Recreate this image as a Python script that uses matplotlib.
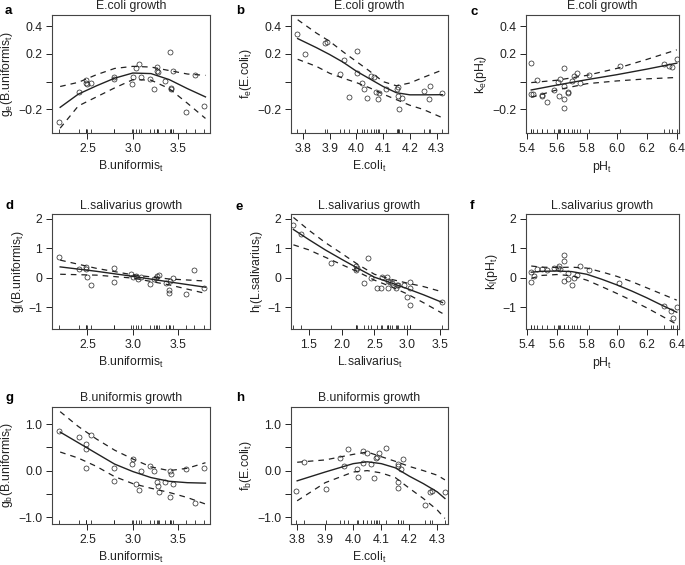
import matplotlib
matplotlib.use('Agg')
import matplotlib.pyplot as plt

plt.rcParams['font.family'] = ['Liberation Sans', 'DejaVu Sans']
plt.rcParams['mathtext.fontset'] = 'custom'
plt.rcParams['mathtext.rm'] = 'Liberation Sans'
plt.rcParams['mathtext.it'] = 'Liberation Sans'
plt.rcParams['axes.unicode_minus'] = True

# ---- panel a: E.coli growth vs B.uniformis ----
a_x = [2.19, 2.41, 2.485, 2.485, 2.50, 2.537, 2.797, 2.797, 2.987, 3.005, 3.035, 3.068, 3.087,
       3.19, 3.23, 3.27, 3.27, 3.277, 3.353, 3.405, 3.416, 3.416, 3.438, 3.59, 3.68, 3.786]
a_y = [-0.29, -0.075, 0.012, -0.007, -0.017, -0.012, 0.031, 0.017, -0.017, 0.036, 0.101, 0.130, 0.034,
       0.019, -0.055, 0.104, 0.077, 0.070, 0.007, 0.210, -0.043, -0.050, 0.075, -0.220, 0.048, -0.176]
a_fx = [2.2, 2.4, 2.6, 2.8, 3.0, 3.2, 3.4, 3.6, 3.8]
a_fit = [-0.185, -0.09, -0.03, 0.025, 0.062, 0.058, 0.015, -0.05, -0.11]
a_hi = [-0.035, -0.005, 0.05, 0.095, 0.11, 0.105, 0.08, 0.055, 0.045]
a_lo = [-0.335, -0.175, -0.11, -0.045, 0.014, 0.011, -0.05, -0.155, -0.265]

# ---- panel b: E.coli growth vs E.coli ----
b_x = [3.779, 3.807, 3.883, 3.888, 3.938, 3.953, 3.971, 4.002, 4.003, 4.022, 4.027, 4.039, 4.054,
       4.064, 4.074, 4.079, 4.083, 4.111, 4.151, 4.157, 4.157, 4.161, 4.170, 4.253, 4.271, 4.275, 4.322]
b_y = [0.345, 0.198, 0.277, 0.282, 0.053, 0.157, -0.111, 0.060, 0.224, -0.007, -0.055, -0.116, 0.039,
       0.034, -0.072, -0.123, -0.080, -0.051, -0.051, -0.041, -0.104, -0.195, -0.118, -0.067, -0.123,
       -0.034, -0.082]
b_fx = [3.78, 3.85, 3.90, 3.95, 4.00, 4.05, 4.10, 4.15, 4.20, 4.25, 4.322]
b_fit = [0.31, 0.245, 0.195, 0.14, 0.075, 0.02, -0.035, -0.08, -0.095, -0.095, -0.094]
b_hi = [0.446, 0.35, 0.29, 0.215, 0.145, 0.075, 0.0, -0.03, -0.01, 0.03, 0.084]
b_lo = [0.161, 0.11, 0.06, 0.025, -0.007, -0.045, -0.09, -0.13, -0.17, -0.2, -0.26]

# ---- panel c: E.coli growth vs pH ----
c_x = [5.427, 5.429, 5.444, 5.467, 5.500, 5.504, 5.538, 5.584, 5.607, 5.618, 5.620, 5.647, 5.647,
       5.649, 5.647, 5.678, 5.678, 5.700, 5.718, 5.738, 5.756, 5.818, 6.020, 6.318, 6.351, 6.367, 6.402]
c_y = [0.137, -0.092, -0.092, 0.012, -0.096, -0.104, -0.145, -0.060, 0.000, -0.104, 0.017, 0.101, -0.031,
       -0.125, -0.193, -0.072, -0.084, 0.007, 0.041, 0.065, -0.007, 0.048, 0.116, 0.128, 0.113, 0.104, 0.161]
c_fx = [5.43, 5.6, 5.8, 6.0, 6.2, 6.4]
c_fit = [-0.06, -0.025, 0.014, 0.05, 0.09, 0.133]
c_hi = [-0.007, 0.01, 0.045, 0.095, 0.16, 0.229]
c_lo = [-0.113, -0.06, -0.015, 0.005, 0.02, 0.03]

# ---- panel d: L.salivarius growth vs B.uniformis ----
d_x = [2.189, 2.412, 2.485, 2.485, 2.493, 2.537, 2.793, 2.793, 2.983, 2.998, 3.031, 3.06, 3.086,
       3.189, 3.233, 3.26, 3.27, 3.284, 3.36, 3.40, 3.40, 3.408, 3.445, 3.59, 3.672, 3.782]
d_y = [0.69, 0.29, 0.37, 0.29, 0.03, -0.23, 0.32, -0.16, 0.14, 0.03, 0.06, -0.05, 0.03,
       -0.22, -0.05, -0.02, 0.06, 0.11, -0.19, -0.42, -0.51, -0.10, -0.02, -0.55, 0.28, -0.36]
d_fx = [2.2, 2.6, 3.0, 3.4, 3.8]
d_fit = [0.37, 0.22, 0.05, -0.14, -0.32]
d_hi = [0.60, 0.32, 0.10, -0.04, -0.11]
d_lo = [0.12, 0.09, -0.01, -0.24, -0.53]

# ---- panel e: L.salivarius growth vs L.salivarius ----
e_x = [1.267, 1.381, 1.846, 2.224, 2.224, 2.23, 2.337, 2.399, 2.45, 2.534, 2.596, 2.62, 2.687,
       2.708, 2.708, 2.74, 2.76, 2.828, 2.843, 2.863, 2.957, 2.998, 3.04, 3.04, 3.04, 3.536]
e_y = [1.81, 1.50, 0.51, 0.40, 0.26, 0.32, -0.17, 0.66, 0.0, -0.36, -0.34, 0.03, 0.03,
       -0.10, -0.34, -0.14, -0.17, -0.36, -0.25, -0.23, -0.25, -0.65, -0.34, -0.14, -0.91, -0.82]
e_fx = [1.267, 1.5, 1.75, 2.0, 2.25, 2.5, 2.75, 3.0, 3.25, 3.536]
e_fit = [1.64, 1.30, 0.95, 0.63, 0.32, 0.02, -0.17, -0.37, -0.58, -0.84]
e_hi = [2.05, 1.62, 1.20, 0.83, 0.45, 0.12, -0.05, -0.18, -0.30, -0.48]
e_lo = [1.12, 0.95, 0.70, 0.45, 0.20, -0.08, -0.30, -0.55, -0.85, -1.21]

# ---- panel f: L.salivarius growth vs pH ----
f_x = [5.429, 5.429, 5.449, 5.467, 5.504, 5.533, 5.584, 5.607, 5.616, 5.622, 5.647, 5.647, 5.647,
       5.678, 5.678, 5.70, 5.718, 5.738, 5.756, 5.818, 6.018, 6.318, 6.362, 6.378, 6.40]
f_y = [-0.16, 0.18, 0.07, 0.29, 0.29, 0.26, 0.32, 0.34, 0.41, 0.29, 0.77, 0.57, -0.10,
       0.15, -0.05, -0.23, 0.0, 0.09, 0.40, 0.26, -0.17, -0.95, -1.12, -1.38, -0.99]
f_fx = [5.43, 5.5, 5.6, 5.7, 5.8, 5.9, 6.0, 6.1, 6.2, 6.3, 6.4]
f_fit = [0.19, 0.22, 0.23, 0.21, 0.12, -0.05, -0.24, -0.45, -0.68, -0.93, -1.17]
f_hi = [0.40, 0.36, 0.35, 0.36, 0.33, 0.20, 0.05, -0.13, -0.34, -0.55, -0.76]
f_lo = [-0.02, 0.08, 0.11, 0.07, -0.08, -0.30, -0.53, -0.77, -1.02, -1.30, -1.58]

# ---- panel g: B.uniformis growth vs B.uniformis ----
g_x = [2.189, 2.41, 2.485, 2.485, 2.485, 2.537, 2.797, 2.797, 2.987, 3.005, 3.035, 3.068, 3.087,
       3.19, 3.233, 3.27, 3.277, 3.284, 3.353, 3.41, 3.416, 3.41, 3.438, 3.59, 3.68, 3.786]
g_y = [0.86, 0.73, 0.57, 0.47, 0.06, 0.77, 0.05, -0.22, 0.14, 0.25, -0.29, -0.42, 0.0,
       0.09, 0.0, -0.24, -0.34, -0.45, -0.25, 0.0, -0.08, -0.56, -0.29, 0.04, -0.70, 0.06]
g_fx = [2.2, 2.4, 2.6, 2.8, 3.0, 3.2, 3.4, 3.6, 3.8]
g_fit = [0.83, 0.60, 0.37, 0.14, -0.02, -0.15, -0.23, -0.26, -0.27]
g_hi = [1.27, 0.95, 0.68, 0.44, 0.25, 0.08, 0.0, 0.05, 0.17]
g_lo = [0.40, 0.27, 0.09, -0.13, -0.28, -0.38, -0.47, -0.58, -0.72]

# ---- panel h: B.uniformis growth vs E.coli ----
h_x = [3.796, 3.824, 3.902, 3.951, 3.966, 3.983, 4.013, 4.016, 4.034, 4.035, 4.049, 4.064, 4.073,
       4.08, 4.086, 4.092, 4.118, 4.16, 4.161, 4.161, 4.161, 4.17, 4.176, 4.257, 4.275, 4.281, 4.327]
h_y = [-0.44, 0.18, -0.39, 0.28, 0.10, 0.47, 0.04, -0.14, 0.16, 0.43, 0.37, 0.14, -0.15,
       0.27, 0.30, 0.39, 0.48, 0.14, 0.10, -0.24, -0.37, 0.03, 0.25, -0.74, -0.47, -0.44, -0.47]
h_fx = [3.8, 3.9, 4.0, 4.05, 4.1, 4.15, 4.2, 4.25, 4.3, 4.327]
h_fit = [-0.22, -0.03, 0.15, 0.19, 0.15, 0.06, -0.12, -0.28, -0.46, -0.60]
h_hi = [0.18, 0.23, 0.35, 0.40, 0.30, 0.20, 0.09, 0.0, -0.10, -0.20]
h_lo = [-0.65, -0.26, -0.03, 0.0, -0.05, -0.15, -0.38, -0.60, -0.85, -1.03]

titles = ['E.coli growth', 'E.coli growth', 'E.coli growth',
          'L.salivarius growth', 'L.salivarius growth', 'L.salivarius growth',
          'B.uniformis growth', 'B.uniformis growth']
letters = ['a', 'b', 'c', 'd', 'e', 'f', 'g', 'h']
xlabels = ['B.uniformis$_{t}$', 'E.coli$_{t}$', 'pH$_{t}$',
           'B.uniformis$_{t}$', 'L.salivarius$_{t}$', 'pH$_{t}$',
           'B.uniformis$_{t}$', 'E.coli$_{t}$']
ylabels = ['g$_{e}$(B.uniformis$_{t}$)', 'f$_{e}$(E.coli$_{t}$)', 'k$_{e}$(pH$_{t}$)',
           'g$_{l}$(B.uniformis$_{t}$)', 'h$_{l}$(L.salivarius$_{t}$)', 'k$_{l}$(pH$_{t}$)',
           'g$_{b}$(B.uniformis$_{t}$)', 'f$_{b}$(E.coli$_{t}$)']

panels = [
    (a_x, a_y, a_fx, a_fit, a_hi, a_lo),
    (b_x, b_y, b_fx, b_fit, b_hi, b_lo),
    (c_x, c_y, c_fx, c_fit, c_hi, c_lo),
    (d_x, d_y, d_fx, d_fit, d_hi, d_lo),
    (e_x, e_y, e_fx, e_fit, e_hi, e_lo),
    (f_x, f_y, f_fx, f_fit, f_hi, f_lo),
    (g_x, g_y, g_fx, g_fit, g_hi, g_lo),
    (h_x, h_y, h_fx, h_fit, h_hi, h_lo),
]

# axis settings per panel
xlims = [(2.11, 3.85), (3.755, 4.343), (5.395, 6.415),
         (2.11, 3.85), (1.23, 3.62), (5.395, 6.415),
         (2.11, 3.85), (3.778, 4.338)]
bu_ticks = [2.5, 3.0, 3.5]
ec_ticks = [3.8, 3.9, 4.0, 4.1, 4.2, 4.3]
ph_ticks = [5.4, 5.6, 5.8, 6.0, 6.2, 6.4]
ls_ticks = [1.5, 2.0, 2.5, 3.0, 3.5]
xticks = [bu_ticks, ec_ticks, ph_ticks, bu_ticks, ls_ticks, ph_ticks, bu_ticks, ec_ticks]

row_ylims = [(-0.37, 0.48), (-1.74, 2.15), (-1.15, 1.37)]
row_yticks = [[-0.2, 0.0, 0.2, 0.4], [-1, 0, 1, 2], [-1.0, -0.5, 0.0, 0.5, 1.0]]
row_ylabels = [['\u22120.2', '', '0.2', '0.4'], ['\u22121', '0', '1', '2'],
               ['\u22121.0', '', '0.0', '', '1.0']]

W, H = 685, 565
col_lr = [(52, 210), (291, 448), (526, 679)]
row_tb = [(15, 133), (214.5, 329), (407, 524)]
letter_xy = [(5, 11), (236, 11), (470, 12), (5, 206), (236, 207), (470, 206), (5, 398), (236, 398)]

INK = '#222222'
FS = 8.8


def draw_panel(ax, x, y, fx, fit, hi, lo):
    ax.plot(fx, fit, color=INK, lw=1.0)
    ax.plot(fx, hi, color=INK, lw=0.9, ls=(0, (4.5, 4)))
    ax.plot(fx, lo, color=INK, lw=0.9, ls=(0, (4.5, 4)))
    ax.plot(x, y, 'o', mfc='none', mec=INK, mew=0.5, ms=3.6)
    # rug along the bottom
    ax.vlines(x, 0, 0.035, transform=ax.get_xaxis_transform(), color=INK, lw=0.6)


fig = plt.figure(figsize=(W / 100, H / 100), dpi=100)

for i, (x, y, fx, fit, hi, lo) in enumerate(panels):
    row, col = divmod(i, 3)
    l, r = col_lr[col]
    t, b = row_tb[row]
    ax = fig.add_axes([l / W, 1 - b / H, (r - l) / W, (b - t) / H])
    draw_panel(ax, x, y, fx, fit, hi, lo)
    ax.set_xlim(*xlims[i])
    ax.set_ylim(*row_ylims[row])
    ax.set_xticks(xticks[i])
    ax.set_xticklabels([f'{v:.1f}' for v in xticks[i]])
    ax.set_yticks(row_yticks[row])
    ax.set_yticklabels(row_ylabels[row])
    ax.tick_params(direction='out', length=4, width=0.7, pad=3, labelsize=FS, colors=INK)
    for s in ax.spines.values():
        s.set_linewidth(0.8)
        s.set_color('#444444')
    ax.set_title(titles[i], fontsize=FS, pad=4, color=INK)
    ax.set_xlabel(xlabels[i], fontsize=FS, labelpad=3, color=INK)
    ax.set_ylabel(ylabels[i], fontsize=FS, labelpad=2, color=INK)
    lx, ly = letter_xy[i]
    fig.text(lx / W, 1 - ly / H, letters[i], fontsize=9.5, fontweight='bold', va='center', ha='left')

fig.savefig('out.png', dpi=100)
